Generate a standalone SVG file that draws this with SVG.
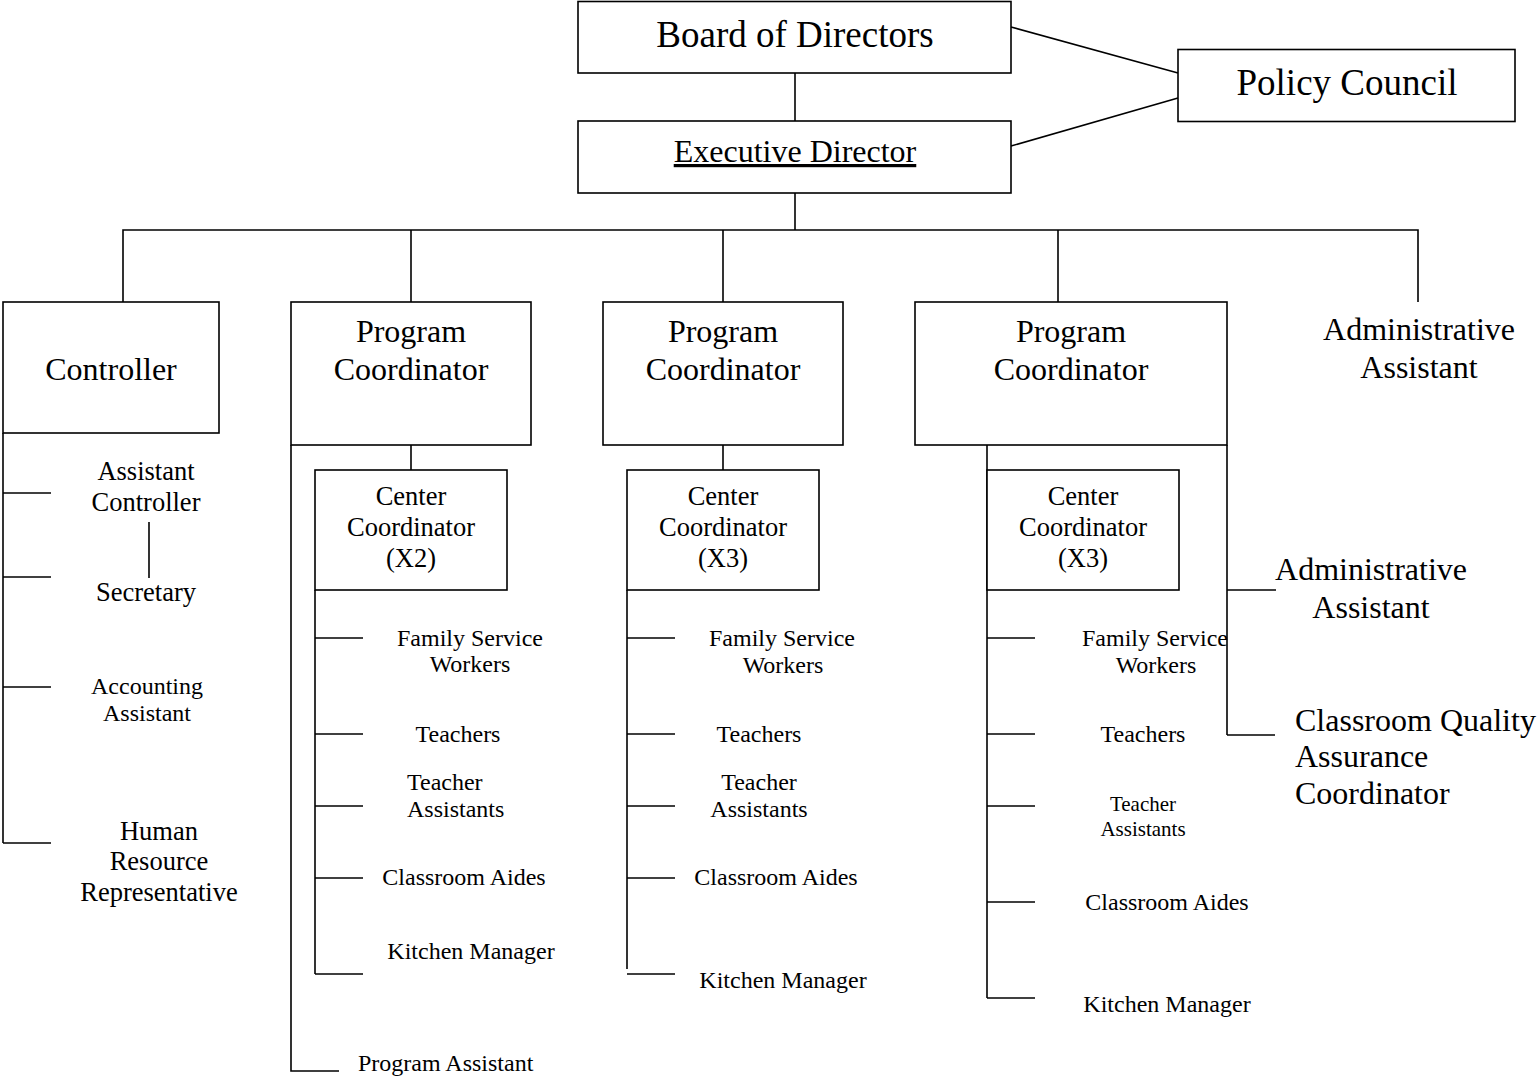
<svg xmlns="http://www.w3.org/2000/svg" width="1537" height="1078" viewBox="0 0 1537 1078">
<style>
  .box { fill: #ffffff; stroke: #000000; stroke-width: 1.6; }
  .ln { fill: none; stroke: #000000; stroke-width: 1.6; }
  text { font-family: "Liberation Serif", "Times New Roman", serif; fill: #000000; }
  .c { text-anchor: middle; }
  .s37 { font-size: 37px; }
  .s32 { font-size: 32px; }
  .s26 { font-size: 26.5px; }
  .s24 { font-size: 24px; }
  .s21 { font-size: 21px; }
</style>
<rect width="1537" height="1078" fill="#ffffff"/>
<g id="connectors">
  <line class="ln" x1="795" y1="73" x2="795" y2="121"/>
  <line class="ln" x1="1011" y1="27" x2="1178" y2="73"/>
  <line class="ln" x1="1011" y1="146" x2="1178" y2="98"/>
  <line class="ln" x1="795" y1="193" x2="795" y2="230"/>
  <polyline class="ln" points="123,302 123,230 1418,230 1418,302"/>
  <line class="ln" x1="411" y1="230" x2="411" y2="302"/>
  <line class="ln" x1="723" y1="230" x2="723" y2="302"/>
  <line class="ln" x1="1058" y1="230" x2="1058" y2="302"/>
  <!-- controller branch -->
  <line class="ln" x1="3" y1="433" x2="3" y2="843"/>
  <line class="ln" x1="3" y1="493" x2="51" y2="493"/>
  <line class="ln" x1="3" y1="577" x2="51" y2="577"/>
  <line class="ln" x1="3" y1="687" x2="51" y2="687"/>
  <line class="ln" x1="3" y1="843" x2="51" y2="843"/>
  <line class="ln" x1="149" y1="522" x2="149" y2="578"/>
  <!-- program coordinator 1 -->
  <polyline class="ln" points="291,445 291,1071 339,1071"/>
  <line class="ln" x1="411" y1="445" x2="411" y2="470"/>
  <line class="ln" x1="315" y1="590" x2="315" y2="974"/>
  <line class="ln" x1="315" y1="638" x2="363" y2="638"/>
  <line class="ln" x1="315" y1="734" x2="363" y2="734"/>
  <line class="ln" x1="315" y1="806" x2="363" y2="806"/>
  <line class="ln" x1="315" y1="878" x2="363" y2="878"/>
  <line class="ln" x1="315" y1="974" x2="363" y2="974"/>
  <!-- program coordinator 2 -->
  <line class="ln" x1="723" y1="445" x2="723" y2="470"/>
  <line class="ln" x1="627" y1="590" x2="627" y2="969"/>
  <line class="ln" x1="627" y1="638" x2="675" y2="638"/>
  <line class="ln" x1="627" y1="734" x2="675" y2="734"/>
  <line class="ln" x1="627" y1="806" x2="675" y2="806"/>
  <line class="ln" x1="627" y1="878" x2="675" y2="878"/>
  <line class="ln" x1="627" y1="974" x2="675" y2="974"/>
  <!-- program coordinator 3 -->
  <line class="ln" x1="987" y1="445" x2="987" y2="998"/>
  <line class="ln" x1="987" y1="638" x2="1035" y2="638"/>
  <line class="ln" x1="987" y1="734" x2="1035" y2="734"/>
  <line class="ln" x1="987" y1="806" x2="1035" y2="806"/>
  <line class="ln" x1="987" y1="902" x2="1035" y2="902"/>
  <line class="ln" x1="987" y1="998" x2="1035" y2="998"/>
  <line class="ln" x1="1227" y1="445" x2="1227" y2="735"/>
  <line class="ln" x1="1227" y1="590" x2="1276" y2="590"/>
  <line class="ln" x1="1227" y1="735" x2="1275" y2="735"/>
</g>
<g id="board">
  <rect class="box" x="578" y="1.5" width="433" height="71.5"/>
  <text class="c s37" x="795" y="47">Board of Directors</text>
</g>
<g id="executive">
  <rect class="box" x="578" y="121" width="433" height="72"/>
  <text class="c s32" x="795" y="162" text-decoration="underline">Executive Director</text>
</g>
<g id="policy">
  <rect class="box" x="1178" y="49.5" width="337" height="72"/>
  <text class="c s37" x="1347" y="95">Policy Council</text>
</g>
<g id="controller">
  <rect class="box" x="3" y="302" width="216" height="131"/>
  <text class="c s32" x="111" y="380">Controller</text>
</g>
<g id="pc1">
  <rect class="box" x="291" y="302" width="240" height="143"/>
  <text class="c s32" x="411" y="342">Program</text>
  <text class="c s32" x="411" y="380">Coordinator</text>
</g>
<g id="pc2">
  <rect class="box" x="603" y="302" width="240" height="143"/>
  <text class="c s32" x="723" y="342">Program</text>
  <text class="c s32" x="723" y="380">Coordinator</text>
</g>
<g id="pc3">
  <rect class="box" x="915" y="302" width="312" height="143"/>
  <text class="c s32" x="1071" y="342">Program</text>
  <text class="c s32" x="1071" y="380">Coordinator</text>
</g>
<g id="admin-top">
  <text class="c s32" x="1419" y="340">Administrative</text>
  <text class="c s32" x="1419" y="378">Assistant</text>
</g>
<g id="ctrl-staff">
  <text class="c s26" x="146" y="480">Assistant</text>
  <text class="c s26" x="146" y="511">Controller</text>
  <text class="c s26" x="146" y="601">Secretary</text>
  <text class="c s24" x="147" y="694">Accounting</text>
  <text class="c s24" x="147" y="721">Assistant</text>
  <text class="c s26" x="159" y="840">Human</text>
  <text class="c s26" x="159" y="870">Resource</text>
  <text class="c s26" x="159" y="901">Representative</text>
</g>
<g id="cc1">
  <rect class="box" x="315" y="470" width="192" height="120"/>
  <text class="c s26" x="411" y="505">Center</text>
  <text class="c s26" x="411" y="536">Coordinator</text>
  <text class="c s26" x="411" y="567">(X2)</text>
</g>
<g id="cc1-staff">
  <text class="c s24" x="470" y="646">Family Service</text>
  <text class="c s24" x="470" y="672">Workers</text>
  <text class="c s24" x="458" y="742">Teachers</text>
  <text class="s24" x="407" y="790">Teacher</text>
  <text class="s24" x="407" y="817">Assistants</text>
  <text class="c s24" x="464" y="885">Classroom Aides</text>
  <text class="c s24" x="471" y="959">Kitchen Manager</text>
  <text class="s24" x="358" y="1071">Program Assistant</text>
</g>
<g id="cc2">
  <rect class="box" x="627" y="470" width="192" height="120"/>
  <text class="c s26" x="723" y="505">Center</text>
  <text class="c s26" x="723" y="536">Coordinator</text>
  <text class="c s26" x="723" y="567">(X3)</text>
</g>
<g id="cc2-staff">
  <text class="c s24" x="782" y="646">Family Service</text>
  <text class="c s24" x="783" y="673">Workers</text>
  <text class="c s24" x="759" y="742">Teachers</text>
  <text class="c s24" x="759" y="790">Teacher</text>
  <text class="c s24" x="759" y="817">Assistants</text>
  <text class="c s24" x="776" y="885">Classroom Aides</text>
  <text class="c s24" x="783" y="988">Kitchen Manager</text>
</g>
<g id="cc3">
  <rect class="box" x="987" y="470" width="192" height="120"/>
  <text class="c s26" x="1083" y="505">Center</text>
  <text class="c s26" x="1083" y="536">Coordinator</text>
  <text class="c s26" x="1083" y="567">(X3)</text>
</g>
<g id="cc3-staff">
  <text class="c s24" x="1155" y="646">Family Service</text>
  <text class="c s24" x="1156" y="673">Workers</text>
  <text class="c s24" x="1143" y="742">Teachers</text>
  <text class="c s21" x="1143" y="811">Teacher</text>
  <text class="c s21" x="1143" y="836">Assistants</text>
  <text class="c s24" x="1167" y="910">Classroom Aides</text>
  <text class="c s24" x="1167" y="1012">Kitchen Manager</text>
</g>
<g id="admin-right">
  <text class="c s32" x="1371" y="580">Administrative</text>
  <text class="c s32" x="1371" y="618">Assistant</text>
</g>
<g id="cqa">
  <text class="s32" x="1295" y="731">Classroom Quality</text>
  <text class="s32" x="1295" y="767">Assurance</text>
  <text class="s32" x="1295" y="804">Coordinator</text>
</g>
</svg>
